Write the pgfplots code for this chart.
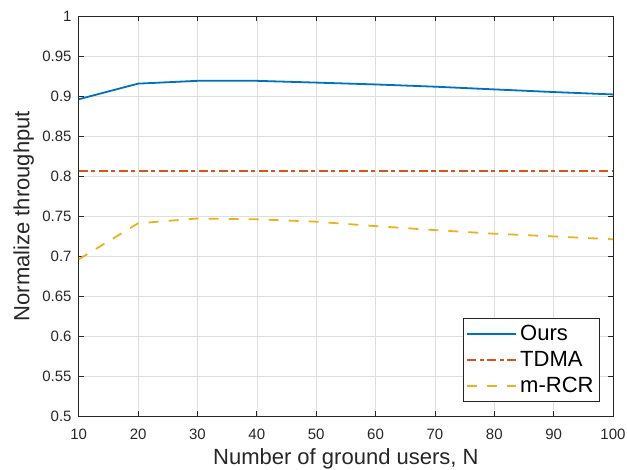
\documentclass[border=0pt]{standalone}
\usepackage{fontspec}
\setmainfont{Liberation Sans}
\usepackage{pgfplots}
\pgfplotsset{compat=1.18}

\definecolor{mblue}{rgb}{0,0.447,0.741}
\definecolor{morange}{rgb}{0.85,0.325,0.098}
\definecolor{myellow}{rgb}{0.929,0.694,0.125}
\definecolor{axgray}{rgb}{0.15,0.15,0.15}

\begin{document}
\begin{tikzpicture}
\begin{axis}[
  name=ax,
  scale only axis,
  width=534pt, height=400pt,
  xmin=10, xmax=100, ymin=0.5, ymax=1,
  xtick={10,20,...,100},
  ytick={0.5,0.55,...,1.01},
  yticklabels={0.5,0.55,0.6,0.65,0.7,0.75,0.8,0.85,0.9,0.95,1},
  grid=major,
  major grid style={color=black!13, line width=0.6pt},
  axis line style={color=axgray, line width=0.8pt},
  tick style={color=axgray, line width=0.8pt},
  major tick length=5pt,
  /pgf/number format/assume math mode=true,
  ticklabel style={font=\fontsize{15}{17}\selectfont, text=axgray},
  xticklabel style={anchor=base, inner sep=0pt, yshift=-23pt},
  yticklabel style={anchor=east, inner sep=0pt, xshift=-7pt},
  xlabel={Number of ground users, N},
  ylabel={Normalize throughput},
  label style={font=\fontsize{22}{24}\selectfont, text=axgray},
  xlabel style={at={(rel axis cs:0.5,0)}, anchor=base, inner sep=0pt, yshift=-48pt},
  ylabel style={at={(rel axis cs:0,0.5)}, anchor=north, inner sep=0pt, yshift=65.5pt},
  legend style={at={(rel axis cs:1,0)}, anchor=south east, xshift=-13pt, yshift=14pt,
    draw=axgray, line width=0.8pt, font=\fontsize{22}{24}\selectfont,
    inner xsep=3pt, inner ysep=3pt, row sep=1pt,
    nodes={inner xsep=3pt, inner ysep=2pt, text height=17pt, text depth=4pt}},
  legend cell align=left,
  legend image code/.code={\draw[#1] (0pt,0pt) -- (49pt,0pt);},
]
\addplot[color=mblue, line width=1.8pt] coordinates {
  (10,0.896) (20,0.9155) (30,0.919) (40,0.919) (50,0.9168)
  (60,0.9145) (70,0.9117) (80,0.9083) (90,0.905) (100,0.902)
};
\addlegendentry{Ours}
\addplot[color=morange, line width=1.8pt, dash pattern=on 9pt off 3.5pt on 4pt off 3.5pt] coordinates {
  (10,0.806) (20,0.806) (30,0.806) (40,0.806) (50,0.806)
  (60,0.806) (70,0.806) (80,0.806) (90,0.806) (100,0.806)
};
\addlegendentry{TDMA}
\addplot[color=myellow, line width=1.8pt, dash pattern=on 10pt off 10pt] coordinates {
  (10,0.696) (20,0.741) (30,0.747) (40,0.746) (50,0.743)
  (60,0.7375) (70,0.7325) (80,0.728) (90,0.7246) (100,0.721)
};
\addlegendentry{m-RCR}
\end{axis}
\path (ax.south west) ++(-78.7pt,-53pt) coordinate (bl);
\path (ax.north east) ++(14pt,16pt) coordinate (tr);
\pgfresetboundingbox
\useasboundingbox (bl) rectangle (tr);
\end{tikzpicture}
\end{document}
